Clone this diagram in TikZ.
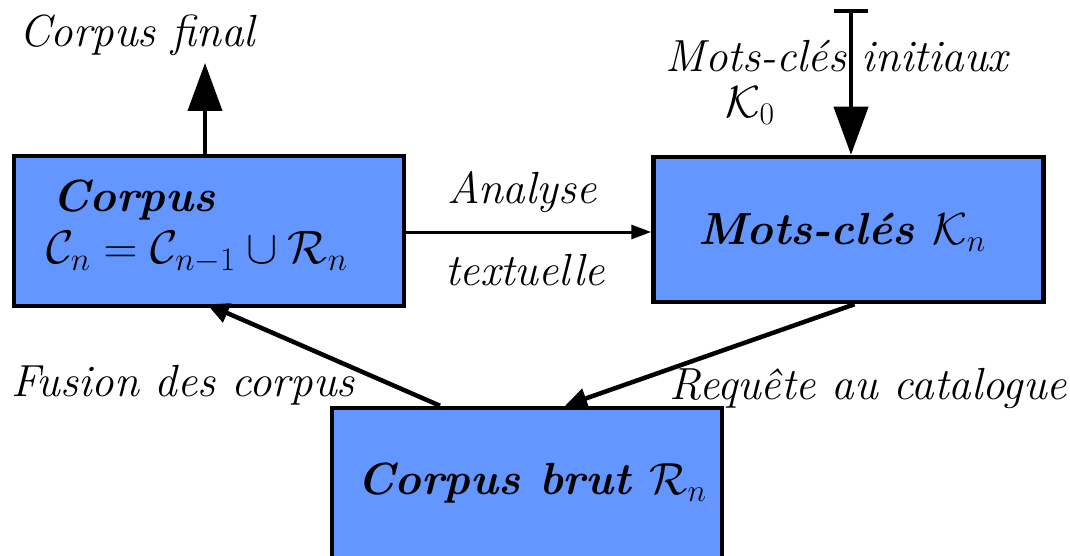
\documentclass[tikz,border=0pt]{standalone}
\usepackage{fix-cm}
\usepackage{amsmath,amssymb}
\usetikzlibrary{arrows.meta}
\definecolor{boxblue}{RGB}{99,151,255}
\begin{document}
\begin{tikzpicture}[x=1pt,y=-1pt,
  box/.style={draw=black,line width=4.5pt,fill=boxblue,minimum width=390pt,inner sep=0pt},
  lbl/.style={inner sep=0pt,font=\fontsize{45}{54}\selectfont\itshape},
  bld/.style={inner sep=0pt,font=\fontsize{45}{54}\selectfont\bfseries\itshape},
  big/.style={-{Triangle[length=48pt,width=34pt]},line width=4pt},
  small/.style={-{Triangle[length=20pt,width=14pt]},line width=3pt},
  mid/.style={-{Triangle[length=22pt,width=20pt]},line width=4.5pt}]
\useasboundingbox (0,0) rectangle (1070,556);
\node[box,minimum height=150pt] (corpus) at (209,231) {};
\node[box,minimum height=145pt] (mots) at (848.5,229.5) {};
\node[box,minimum height=160pt] (brut) at (527,488) {};
\node[bld,anchor=west] (ct) at (52,200) {Corpus};
\node[lbl,anchor=west,font=\fontsize{47}{56}\selectfont] (cf) at (46,252) {$\mathcal{C}_n=\mathcal{C}_{n-1}\cup\mathcal{R}_n$};
\node[bld] (mt) at (842,232) {Mots-clés \mdseries$\mathcal{K}_n$};
\node[bld] (bt) at (532,483) {Corpus brut \mdseries$\mathcal{R}_n$};
\coordinate (fin) at (205,63);
\coordinate (ini) at (851,11);
\draw[big] (corpus.north -| fin) -- (fin);
\draw[line width=4pt] ([xshift=-17pt]ini) -- ([xshift=17pt]ini);
\draw[big] (ini) -- (ini |- mots.north);
\draw[small] (corpus.east |- 0,232) -- (mots.west |- 0,232);
\draw[mid] ([xshift=6pt]mots.south) -- ([xshift=38pt]brut.north);
\draw[mid] ([xshift=-87pt]brut.north) -- ([xshift=-2pt,yshift=4pt]corpus.south);
\node[lbl] (l1) at (137,35) {Corpus final};
\node[lbl] (l2) at (837,56) {Mots-clés initiaux};
\node[lbl] (l3) at (750,106) {$\mathcal{K}_0$};
\node[lbl] (l4) at (522,192) {Analyse};
\node[lbl] (l5) at (525,270) {textuelle};
\node[lbl] (l6) at (183,385) {Fusion des corpus};
\node[lbl] (l7) at (868,388) {Requête au catalogue};
\end{tikzpicture}
\end{document}
